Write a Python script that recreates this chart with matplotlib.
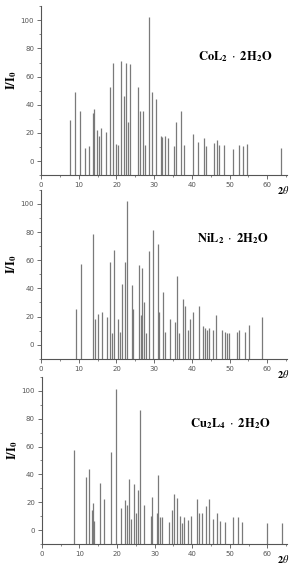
import numpy as np
import matplotlib
matplotlib.use("Agg")
import matplotlib.pyplot as plt
from matplotlib.ticker import MultipleLocator

plt.rcParams['mathtext.fontset'] = 'stix'

# peak positions (2theta) and relative intensities
co_pos = [7.8, 9.1, 10.3, 11.6, 12.7, 13.7, 14.1, 14.8, 15.3, 16.0, 17.3, 18.2, 19.0,
          19.9, 20.4, 21.3, 22.0, 22.6, 23.1, 23.7, 25.6, 26.3, 27.0, 27.6, 28.5, 29.4,
          30.6, 31.9, 32.1, 33.0, 33.7, 35.2, 35.9, 37.2, 37.9, 40.2, 41.6, 43.1, 43.8,
          45.9, 46.6, 47.1, 48.4, 50.8, 52.5, 53.6, 54.7, 63.5]
co_int = [29.4, 48.8, 35.5, 9.2, 10.7, 34, 36.7, 22.3, 17.5, 23.7, 20.4, 52.4, 69.9,
          12.1, 11.1, 70.9, 46.2, 69.7, 28, 68.7, 52.4, 35.3, 35.3, 11.1, 102, 49,
          44, 18, 17.3, 18, 16.1, 10.4, 27.5, 35.5, 11.4, 19, 13.3, 16.1, 10.4,
          13, 15.2, 11.4, 11.4, 8.3, 11.4, 10.7, 11.8, 9]

ni_pos = [9.3, 10.5, 13.9, 14.4, 15.0, 16.2, 17.6, 18.3, 18.7, 19.4, 20.4, 20.9, 21.6,
          22.3, 22.9, 24.1, 24.3, 25.9, 26.5, 26.8, 27.3, 27.8, 28.7, 29.6, 30.9, 31.4,
          32.3, 32.8, 34.1, 35.4, 36.0, 36.7, 37.6, 38.2, 39.0, 39.6, 40.4, 42.0, 42.9,
          43.5, 44.1, 44.6, 45.5, 46.3, 48.1, 48.7, 49.2, 49.8, 51.9, 52.6, 54.1, 55.1, 58.7]
ni_int = [25.4, 57.6, 78.7, 18.2, 22, 23.5, 19.4, 58.8, 8.3, 67.5, 18.2, 9, 43.4,
          58.8, 102, 42.4, 25.4, 56.4, 21.1, 54.5, 30.3, 8.3, 66.8, 81.8, 71.6, 23.2,
          37.4, 9, 18, 16.1, 49, 8.3, 32.5, 27.5, 10.5, 18.2, 23.2, 27.5, 13.3,
          12, 10.2, 11.8, 10.4, 21.1, 10.4, 9.2, 8.5, 8.5, 9.2, 10.2, 9, 14.2, 19.4]

cu_pos = [8.5, 11.7, 12.4, 13.2, 13.6, 13.9, 15.4, 16.5, 18.5, 19.8, 21.0, 22.2, 22.6,
          23.1, 23.6, 24.4, 25.1, 25.6, 26.2, 27.2, 28.9, 29.4, 30.6, 31.0, 31.5, 32.0,
          33.8, 34.7, 35.2, 35.9, 36.8, 37.3, 37.9, 38.9, 39.8, 41.3, 41.9, 42.7, 43.7,
          44.5, 45.5, 46.7, 47.4, 48.8, 50.8, 52.2, 53.2, 60.0, 63.9]
cu_int = [57.6, 38.2, 43.8, 14.2, 19.7, 6.9, 34.1, 22, 56.4, 101.4, 16.1, 21.3, 18.2,
          37, 7.8, 33.2, 12.1, 29.1, 86.3, 18.2, 10, 23.5, 12.3, 39.6, 9.2, 9.2,
          6.2, 14.2, 26.3, 23, 10.2, 5.2, 9.2, 7.3, 10.2, 22, 12.3, 12.3, 17.1,
          22, 8.3, 12.3, 6.9, 6.2, 9.2, 9.2, 6.2, 5, 5]

labels = [r"$\mathbf{CoL_2}\ \cdot\ \mathbf{2H_2O}$",
          r"$\mathbf{NiL_2}\ \cdot\ \mathbf{2H_2O}$",
          r"$\mathbf{Cu_2L_4}\ \cdot\ \mathbf{2H_2O}$"]

fig = plt.figure(figsize=(2.91, 5.65), dpi=100)

boxes = [[0.141, 0.690, 0.845, 0.299],
         [0.141, 0.365, 0.845, 0.299],
         [0.144, 0.037, 0.842, 0.296]]
data = [(co_pos, co_int), (ni_pos, ni_int), (cu_pos, cu_int)]
label_xy = [(0.79, 0.70), (0.78, 0.71), (0.77, 0.72)]

for box, (pos, inten), lab, lxy in zip(boxes, data, labels, label_xy):
    ax = fig.add_axes(box)
    ax.patch.set_visible(False)
    ax.vlines(pos, -10, inten, colors='#7a7a7a', linewidth=0.9)
    ax.set_xlim(0, 65.2)
    ax.set_ylim(-10, 110)
    ax.spines['top'].set_visible(False)
    ax.spines['right'].set_visible(False)
    for s in ['left', 'bottom']:
        ax.spines[s].set_color('#555555')
        ax.spines[s].set_linewidth(0.8)
    ax.xaxis.set_major_locator(MultipleLocator(10))
    ax.xaxis.set_minor_locator(MultipleLocator(5))
    ax.yaxis.set_major_locator(MultipleLocator(20))
    ax.yaxis.set_minor_locator(MultipleLocator(10))
    ax.set_xticks(range(0, 61, 10))
    ax.tick_params(which='major', length=3, width=0.6, colors='#555555',
                   labelsize=5, pad=2, direction='out')
    ax.tick_params(which='minor', length=1.5, width=0.5, colors='#555555')
    ax.text(lxy[0], lxy[1], lab, transform=ax.transAxes, ha='center', va='center',
            fontsize=9)
    ax.text(-0.118, 0.56, r"$\mathbf{I/I_0}$", transform=ax.transAxes, rotation=90,
            ha='center', va='center', fontsize=9)
    ax.text(0.985, -0.09, r"$\mathbf{2}\theta$", transform=ax.transAxes,
            ha='center', va='center', fontsize=7.5)

plt.savefig("out.png", dpi=100)
